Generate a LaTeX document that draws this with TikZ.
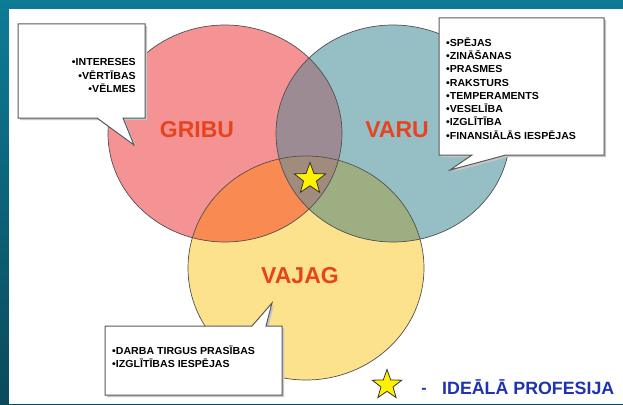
\documentclass[tikz,border=0pt]{standalone}
\usepackage{fontspec}
\setmainfont{Liberation Sans}
\newfontfamily\listfont{Liberation Sans}[FakeStretch=1.04]
\usetikzlibrary{shapes.geometric}
\definecolor{bgTop}{HTML}{0E7B97}
\definecolor{bgBot}{HTML}{0A4A5B}
\definecolor{redc}{HTML}{F59293}
\definecolor{bluec}{HTML}{95BFC4}
\definecolor{yellowc}{HTML}{FCE28C}
\definecolor{orangec}{HTML}{F98A52}
\definecolor{purplec}{HTML}{9D8B94}
\definecolor{greenc}{HTML}{9DAE82}
\definecolor{centerc}{HTML}{A08B7C}
\definecolor{labelc}{HTML}{E8431F}
\definecolor{legendc}{HTML}{1E32B4}
\definecolor{edgec}{HTML}{505050}
\begin{document}
\begin{tikzpicture}[x=1pt,y=-1pt,
  rE/.style={x radius=117pt,y radius=108.5pt},
  yE/.style={x radius=118pt,y radius=112pt},
  boxline/.style={draw=gray!70!black,line width=1pt,fill=white},
  boxshadow/.style={fill=gray!45},
  listtxt/.style={inner sep=0pt,font=\listfont\bfseries\fontsize{10.2}{13.3}\selectfont,text=black},
  biglabel/.style={inner sep=0pt,font=\bfseries\fontsize{23}{24}\selectfont,text=labelc},
  starnode/.style={star,star points=5,star point ratio=2.45,fill=yellow,draw=black!80,line width=0.8pt,inner sep=0pt}]
\useasboundingbox (0,0) rectangle (623,404);
\shade[top color=bgTop,bottom color=bgBot] (0,0) rectangle (623,404);
\fill[white] (9,9) rectangle (623,404);
% circles
\coordinate (R) at (225,133.5);
\coordinate (B) at (393,133.5);
\coordinate (Y) at (306,268);
\fill[redc] (R) ellipse [rE];
\fill[bluec] (B) ellipse [rE];
\fill[yellowc] (Y) ellipse [yE];
\begin{scope}
  \clip (R) ellipse [rE];
  \fill[purplec] (B) ellipse [rE];
  \fill[orangec] (Y) ellipse [yE];
\end{scope}
\begin{scope}
  \clip (B) ellipse [rE];
  \fill[greenc] (Y) ellipse [yE];
  \clip (R) ellipse [rE];
  \fill[centerc] (Y) ellipse [yE];
\end{scope}
\draw[edgec,line width=0.7pt] (R) ellipse [rE];
\draw[edgec,line width=0.7pt] (B) ellipse [rE];
\draw[edgec,line width=0.7pt] (Y) ellipse [yE];
% callouts
\fill[boxshadow,shift={(2,2)}] (18,24) -- (145,24) -- (145,118) -- (123,118) -- (134,145) -- (97,118) -- (18,118) -- cycle;
\path[boxline] (18,24) -- (145,24) -- (145,118) -- (123,118) -- (134,145) -- (97,118) -- (18,118) -- cycle;
\fill[boxshadow,shift={(2,2)}] (439,18) -- (604,18) -- (604,155) -- (506,155) -- (450,170) -- (472,155) -- (439,155) -- cycle;
\path[boxline] (439,18) -- (604,18) -- (604,155) -- (506,155) -- (450,170) -- (472,155) -- (439,155) -- cycle;
\fill[boxshadow,shift={(2,2)}] (105,326) -- (252,326) -- (272,303) -- (266,326) -- (282,326) -- (282,395) -- (105,395) -- cycle;
\path[boxline] (105,326) -- (252,326) -- (272,303) -- (266,326) -- (282,326) -- (282,395) -- (105,395) -- cycle;
% texts
\node[listtxt,align=right,anchor=east] (t1) at (136,75.5) {•INTERESES\\•VĒRTĪBAS\\•VĒLMES};
\node[listtxt,align=left,anchor=west] (t2) at (446,88.5) {•SPĒJAS\\•ZINĀŠANAS\\•PRASMES\\•RAKSTURS\\•TEMPERAMENTS\\•VESELĪBA\\•IZGLĪTĪBA\\•FINANSIĀLĀS IESPĒJAS};
\node[listtxt,align=left,anchor=west,font=\listfont\bfseries\fontsize{10.2}{12.5}\selectfont] (t3) at (112,357) {•DARBA TIRGUS PRASĪBAS\\•IZGLĪTĪBAS IESPĒJAS};
\node[biglabel] (gribu) at (197,130) {GRIBU};
\node[biglabel] (varu) at (397,130) {VARU};
\node[biglabel] (vajag) at (300,276) {VAJAG};
% stars
\node[starnode,minimum size=33pt] (star) at (310,179) {};
\node[starnode,minimum size=31pt] (lstar) at (387,385) {};
\node[inner sep=0pt,font=\bfseries\fontsize{16}{17}\selectfont,text=legendc] (dash) at (424,391) {-};
\node[inner sep=0pt,anchor=west,font=\bfseries\fontsize{17.8}{18}\selectfont,text=legendc] (ideal) at (442,387) {IDEĀLĀ PROFESIJA};
\end{tikzpicture}
\end{document}
